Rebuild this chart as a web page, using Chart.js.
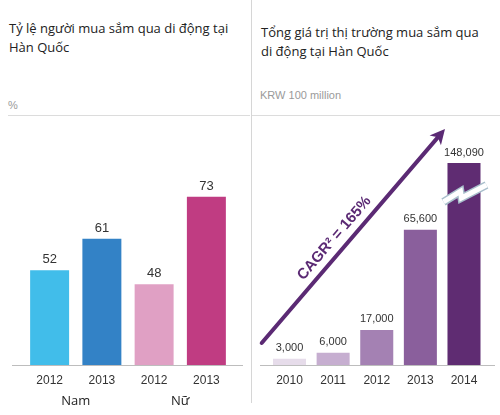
<!DOCTYPE html>
<html>
<head>
<meta charset="utf-8">
<script src="https://cdn.jsdelivr.net/npm/chart.js@4"></script>
<style>
  body { margin: 0; background: #fff; }
  #page { position: relative; width: 500px; height: 415px; overflow: hidden; font-family: "Open Sans", "Noto Sans", sans-serif; }
  .title { position: absolute; font-size: 13px; line-height: 19px; color: #222; white-space: nowrap; }
  .unit { position: absolute; font-family: "Liberation Sans", Arial, sans-serif; font-size: 11px; color: #9a9a9a; }
  .hline { position: absolute; height: 1px; background: #dcdcdc; }
  .vline { position: absolute; width: 1px; background: #d6d6d6; }
  .box { position: absolute; top: 120px; width: 250px; height: 295px; }
</style>
</head>
<body>
<div id="page">
  <div class="title" style="left:9px; top:19px;">Tỷ lệ người mua sắm qua di động tại<br>Hàn Quốc</div>
  <div class="title" style="left:261px; top:23px;">Tổng giá trị thị trường mua sắm qua<br>di động tại Hàn Quốc</div>
  <div class="unit" style="left:8px; top:99px;">%</div>
  <div class="unit" style="left:260px; top:89px;">KRW 100 million</div>
  <div class="hline" style="left:8px; top:115px; width:242px;"></div>
  <div class="hline" style="left:252px; top:115px; width:248px;"></div>
  <div class="vline" style="left:251px; top:0px; height:403px;"></div>
  <div class="box" style="left:0px;"><canvas id="leftChart" width="250" height="295"></canvas></div>
  <div class="box" style="left:250px;"><canvas id="rightChart" width="250" height="295"></canvas></div>
</div>
<script>
// left chart: share of mobile shoppers (%)
const leftYears = ['2012', '2013', '2012', '2013'];
const leftValues = [52, 61, 48, 73];
const leftGroups = ['Nam', 'Nữ'];
const leftColors = ['#41bdea', '#3382c6', '#e0a0c4', '#c03c82'];

// right chart: market size (KRW 100 million)
const rightYears = ['2010', '2011', '2012', '2013', '2014'];
const rightValues = [3000, 6000, 17000, 65600, 148090];
const rightColors = ['#e6dcea', '#c6aed0', '#a481b3', '#8a5f9c', '#5f2c72'];
const cagrText = 'CAGR² = 165%';

// axis break on the right chart: bars above this are cut
const breakAt = 98000;

const tickFont = { family: '"Liberation Sans", Arial, sans-serif', size: 12 };
const ink = '#333';

function baseline(x0, x1) {
  return {
    id: 'baseline',
    beforeDatasetsDraw(chart) {
      const ctx = chart.ctx, y = chart.chartArea.bottom + 0.5;
      ctx.save();
      ctx.strokeStyle = '#bdbdbd';
      ctx.lineWidth = 1;
      ctx.beginPath();
      ctx.moveTo(x0, y);
      ctx.lineTo(x1, y);
      ctx.stroke();
      ctx.restore();
    }
  };
}

function valueLabels(values, fmt, size, gap) {
  return {
    id: 'valueLabels',
    afterDatasetsDraw(chart) {
      const ctx = chart.ctx;
      const bars = chart.getDatasetMeta(0).data;
      ctx.save();
      ctx.font = size + 'px "Liberation Sans", Arial, sans-serif';
      ctx.fillStyle = ink;
      ctx.textAlign = 'center';
      ctx.textBaseline = 'bottom';
      bars.forEach((bar, i) => {
        ctx.fillText(fmt(values[i]), bar.x, bar.y - gap);
      });
      ctx.restore();
    }
  };
}

const groupLabels = {
  id: 'groupLabels',
  afterDraw(chart) {
    const ctx = chart.ctx, x = chart.scales.x;
    ctx.save();
    ctx.font = '13px "Open Sans", "Noto Sans", sans-serif';
    ctx.fillStyle = '#222';
    ctx.textAlign = 'center';
    ctx.textBaseline = 'middle';
    leftGroups.forEach((g, i) => {
      const mid = (x.getPixelForValue(i * 2) + x.getPixelForValue(i * 2 + 1)) / 2;
      ctx.fillText(g, mid, 281);
    });
    ctx.restore();
  }
};

const breakMark = {
  id: 'breakMark',
  afterDatasetsDraw(chart) {
    const ctx = chart.ctx;
    const meta = chart.getDatasetMeta(0);
    rightValues.forEach((v, i) => {
      if (v <= breakAt) return;
      const bar = meta.data[i];
      const L = bar.x - bar.width / 2, T = bar.y;
      const pts = [[-4, 39], [13, 28.5], [14, 35], [39, 22]];
      ctx.save();
      ctx.lineJoin = 'miter';
      ctx.beginPath();
      pts.forEach((p, k) => k ? ctx.lineTo(L + p[0], T + p[1]) : ctx.moveTo(L + p[0], T + p[1]));
      ctx.strokeStyle = '#a9bfcc';
      ctx.lineWidth = 8;
      ctx.stroke();
      ctx.strokeStyle = '#fff';
      ctx.lineWidth = 5;
      ctx.stroke();
      ctx.restore();
    });
  }
};

const cagrArrow = {
  id: 'cagrArrow',
  afterDatasetsDraw(chart) {
    const ctx = chart.ctx, a = chart.chartArea;
    const last = chart.getDatasetMeta(0).data[rightValues.length - 1];
    const x0 = a.left - 6, y0 = a.bottom - 22;
    const x1 = last.x - 19, y1 = a.top - 1;
    const ang = Math.atan2(y1 - y0, x1 - x0);
    const col = '#5b2a74';
    ctx.save();
    ctx.strokeStyle = col;
    ctx.fillStyle = col;
    ctx.lineWidth = 4;
    ctx.lineCap = 'round';
    const hl = 15;
    ctx.beginPath();
    ctx.moveTo(x0, y0);
    ctx.lineTo(x1 - Math.cos(ang) * (hl - 4), y1 - Math.sin(ang) * (hl - 4));
    ctx.stroke();
    // head
    ctx.translate(x1, y1);
    ctx.rotate(ang);
    ctx.beginPath();
    ctx.moveTo(0, 0);
    ctx.lineTo(-hl, -7.5);
    ctx.lineTo(-hl + 4, 0);
    ctx.lineTo(-hl, 7.5);
    ctx.closePath();
    ctx.fill();
    ctx.restore();
    // label along the arrow
    const t = 0.45;
    const px = x0 + (x1 - x0) * t, py = y0 + (y1 - y0) * t;
    const nx = Math.sin(ang), ny = -Math.cos(ang);
    ctx.save();
    ctx.translate(px + nx * 13, py + ny * 13);
    ctx.rotate(ang);
    ctx.font = 'bold 15px "Liberation Sans", Arial, sans-serif';
    ctx.fillStyle = col;
    ctx.textAlign = 'center';
    ctx.textBaseline = 'middle';
    ctx.fillText(cagrText, 0, 0);
    ctx.restore();
  }
};

const commonX = {
  grid: { display: false, drawTicks: false },
  border: { display: false },
  ticks: { font: tickFont, color: ink, padding: 8, maxRotation: 0, autoSkip: false }
};

new Chart(document.getElementById('leftChart'), {
  type: 'bar',
  data: {
    labels: leftYears,
    datasets: [{
      data: leftValues,
      backgroundColor: leftColors,
      barPercentage: 0.746,
      categoryPercentage: 1
    }]
  },
  options: {
    responsive: false,
    animation: false,
    layout: { padding: { left: 23.5, right: 17.5, top: 10, bottom: 19.6 } },
    plugins: { legend: { display: false }, tooltip: { enabled: false } },
    scales: {
      x: commonX,
      y: { display: false, min: 25, max: 92 }
    }
  },
  plugins: [baseline(12, 243), valueLabels(leftValues, v => String(v), 13, 4), groupLabels]
});

new Chart(document.getElementById('rightChart'), {
  type: 'bar',
  data: {
    labels: rightYears,
    datasets: [{
      data: rightValues.map(v => Math.min(v, breakAt)),
      backgroundColor: rightColors,
      barPercentage: 0.757,
      categoryPercentage: 1
    }]
  },
  options: {
    responsive: false,
    animation: false,
    layout: { padding: { left: 17.7, right: 14.2, top: 10, bottom: 19.6 } },
    plugins: { legend: { display: false }, tooltip: { enabled: false } },
    scales: {
      x: commonX,
      y: { display: false, min: 0, max: 114000 }
    }
  },
  plugins: [baseline(10, 245), valueLabels(rightValues, v => v.toLocaleString('en-US'), 11, 5), breakMark, cagrArrow]
});
</script>
</body>
</html>
